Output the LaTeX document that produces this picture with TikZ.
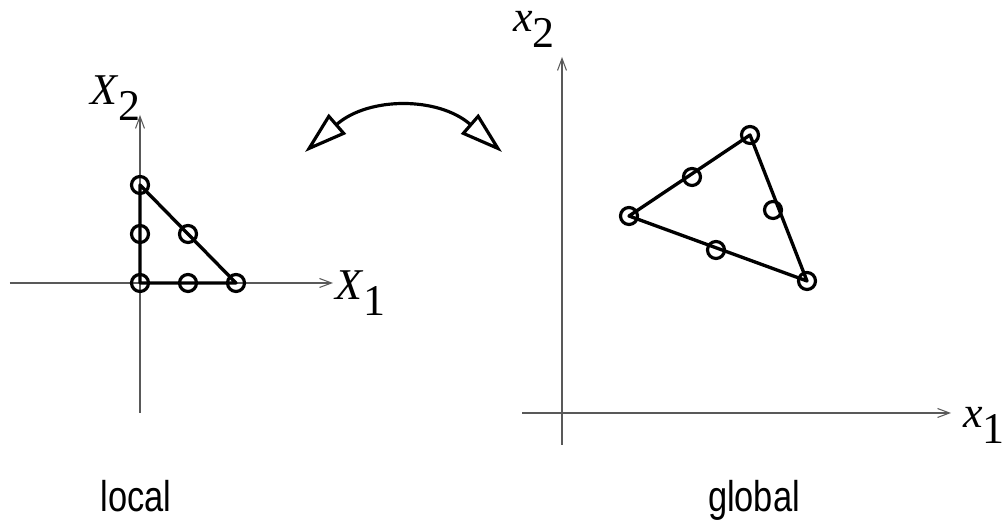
\documentclass[tikz,border=0pt]{standalone}
\usepackage{fontspec}
\setmainfont{Liberation Serif}
\newfontfamily\narrowsans[FakeStretch=0.8]{Liberation Sans}
\usetikzlibrary{arrows.meta,positioning}
\tikzset{
  axis/.style={draw=black!65,line width=0.6pt,-{Straight Barb[length=0.24cm,width=0.18cm]}},
  elemedge/.style={line width=1.9pt,line join=round},
  elemnode/.style={circle,draw,line width=1.8pt,minimum size=0.34cm,inner sep=0pt},
  axlabel/.style={anchor=base west,inner sep=0pt,font=\fontsize{25}{29}\selectfont},
  caption/.style={anchor=base,inner sep=0pt,font=\narrowsans\fontsize{24.5}{28}\selectfont},
  maparrow/.style={{Triangle[open,length=0.86cm,width=0.52cm]}-{Triangle[open,length=0.86cm,width=0.52cm]},
    line width=1.8pt},
}
\newcommand{\axname}[2]{\textit{#1}\raisebox{-0.36em}{#2}}

\begin{document}
\begin{tikzpicture}
  \useasboundingbox (0,0) rectangle (20.06,10.46);
  % local element
  \coordinate (lxs) at (0.20,4.80);
  \coordinate (lxe) at (6.66,4.80);
  \coordinate (lys) at (2.80,2.20);
  \coordinate (lye) at (2.80,8.16);
  \draw[axis] (lxs) -- (lxe);
  \draw[axis] (lys) -- (lye);
  \node[axlabel] (lX1) at (6.70,4.46) {\axname{X}{1}};
  \node[axlabel] (lX2) at (1.80,8.36) {\axname{X}{2}};
  \node[elemnode] (l1) at (2.80,4.80) {};
  \node[elemnode] (l2) at (4.72,4.80) {};
  \node[elemnode] (l3) at (2.80,6.76) {};
  \node[elemnode] (l12) at (3.76,4.80) {};
  \node[elemnode] (l23) at (3.76,5.78) {};
  \node[elemnode] (l31) at (2.80,5.78) {};
  \draw[elemedge] (l1.center) -- (l2.center) -- (l3.center) -- cycle;
  % global element
  \coordinate (gxs) at (10.44,2.20);
  \coordinate (gxe) at (19.02,2.20);
  \coordinate (gys) at (11.24,1.56);
  \coordinate (gye) at (11.24,9.32);
  \draw[axis] (gxs) -- (gxe);
  \draw[axis] (gys) -- (gye);
  \node[axlabel] (gx1) at (19.26,1.90) {\axname{x}{1}};
  \node[axlabel] (gx2) at (10.26,9.82) {\axname{x}{2}};
  \node[elemnode] (g1) at (12.58,6.14) {};
  \node[elemnode] (g2) at (15.00,7.76) {};
  \node[elemnode] (g3) at (16.14,4.84) {};
  \node[elemnode] (g12) at (13.84,6.92) {};
  \node[elemnode] (g23) at (15.46,6.26) {};
  \node[elemnode] (g31) at (14.32,5.46) {};
  \draw[elemedge] (g1.center) -- (g2.center) -- (g3.center) -- cycle;
  % mapping
  \coordinate (mapL) at (6.10,7.42);
  \coordinate (mapR) at (10.04,7.42);
  \draw[maparrow] (mapL) to[out=41,in=139,looseness=1.1] (mapR);
  \node[caption] (loc) at (2.72,0.22) {local};
  \node[caption] (glob) at (15.08,0.22) {global};
\end{tikzpicture}
\end{document}
